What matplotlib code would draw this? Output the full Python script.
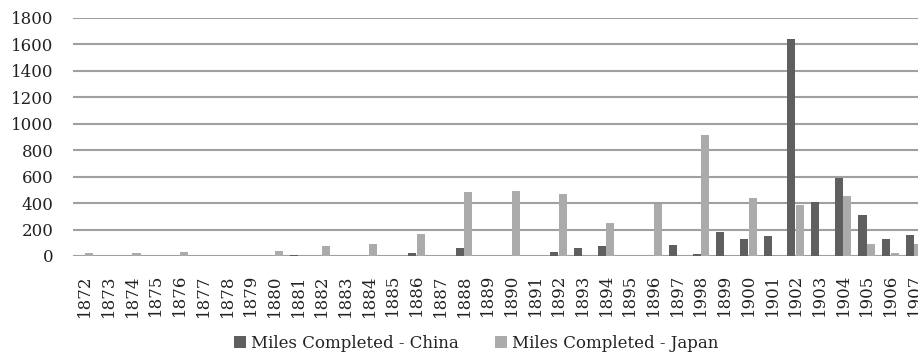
import matplotlib.pyplot as plt
import numpy as np

years = ['1872', '1873', '1874', '1875', '1876', '1877', '1878', '1879', '1880', '1881',
         '1882', '1883', '1884', '1885', '1886', '1887', '1888', '1889', '1890', '1891',
         '1892', '1893', '1894', '1895', '1896', '1897', '1998', '1899', '1900', '1901',
         '1902', '1903', '1904', '1905', '1906', '1907']

china = [0, 0, 0, 0, 0, 0, 0, 0, 0, 5,
         0, 0, 0, 0, 20, 0, 63, 0, 0, 0,
         28, 60, 76, 0, 0, 83, 17, 179, 131, 151,
         1643, 406, 590, 307, 126, 156]

japan = [20, 0, 20, 0, 28, 0, 0, 0, 35, 0,
         75, 0, 93, 0, 168, 0, 482, 0, 489, 0,
         471, 0, 247, 0, 391, 0, 915, 0, 436, 0,
         386, 0, 456, 91, 25, 93]

plt.rcParams['font.family'] = 'DejaVu Serif'

fig = plt.figure(figsize=(9.18, 3.55), dpi=100)
ax = fig.add_axes([73/918, 99/355, 853/918, 238/355])

x = np.arange(len(years))
ax.bar(x - 0.18, china, width=0.34, color='#5f5f5f', label='Miles Completed - China', zorder=3)
ax.bar(x + 0.18, japan, width=0.34, color='#ababab', label='Miles Completed - Japan', zorder=3)

ax.set_xlim(-0.5, len(years) - 0.5)
ax.set_ylim(0, 1800)
ax.set_yticks(range(0, 1801, 200))
ax.set_xticks(x)
ax.set_xticklabels(years, rotation=90, fontsize=12, color='#222222')
ax.tick_params(axis='y', labelsize=12, labelcolor='#222222', length=0, pad=14)
ax.tick_params(axis='x', length=0, pad=13)
ax.yaxis.grid(True, color='#a0a0a0', linewidth=1.5, zorder=0)
for s in ax.spines.values():
    s.set_visible(False)

fig.legend(loc='center', bbox_to_anchor=(476/918, 1 - 343/355), ncol=2, frameon=False,
           fontsize=12, handlelength=0.7, handleheight=0.7, handletextpad=0.3,
           columnspacing=2.2, labelcolor='#222222')

fig.savefig('out.png', dpi=100)
